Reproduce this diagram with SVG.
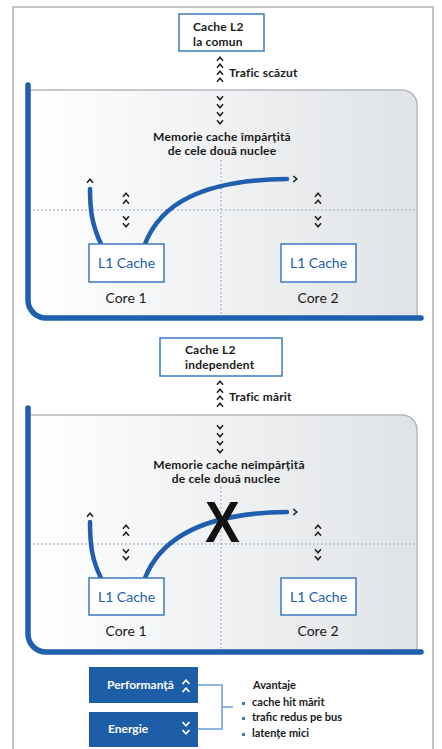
<svg xmlns="http://www.w3.org/2000/svg" width="442" height="749" viewBox="0 0 442 749">
  <style>
    .t { font-family: Lato, "Open Sans", "Liberation Sans", sans-serif; fill: #1a1a1a; }
    .lbl { font-size: 12px; font-weight: 700; letter-spacing: 0.18px; }
    .core { font-size: 14px; }
    .l1 { font-size: 14px; fill: #1d5ca8; }
    .box { fill: #ffffff; stroke: #3d79bf; stroke-width: 1.5; }
    .wire { fill: none; stroke: #1f5fae; stroke-width: 4.5; stroke-linecap: round; }
    .frame { fill: none; stroke: #1f5fae; stroke-width: 5.5; stroke-linecap: round; }
    .edge { fill: none; stroke: #b4b8bd; stroke-width: 1.5; }
    .dot { fill: none; stroke: #9fb0cc; stroke-width: 1.3; stroke-dasharray: 1.5 2.5; }
    .chev { fill: none; stroke: #222; stroke-width: 1.6; }
    .wchev { fill: none; stroke: #ffffff; stroke-width: 1.7; }
    .leg { fill: #1e5ea9; }
    .brk { fill: none; stroke: #6a9fd6; stroke-width: 1.5; }
    .wt { font-family: Lato, "Open Sans", "Liberation Sans", sans-serif; fill: #ffffff; font-size: 12px; font-weight: 700; }
    .lt { font-size: 11px; font-weight: 700; }
  </style>
  <defs>
    <linearGradient id="panelFill" x1="0" y1="0" x2="1" y2="0">
      <stop offset="0" stop-color="#ffffff"/>
      <stop offset="1" stop-color="#e0e3e6"/>
    </linearGradient>
    <path id="up" class="chev" d="M-3,1.8 L0,-1.7 L3,1.8"/>
    <path id="dn" class="chev" d="M-3,-1.8 L0,1.7 L3,-1.8"/>
    <path id="rt" class="chev" d="M-1.7,-3 L1.8,0 L-1.7,3"/>
    <path id="wup" class="wchev" d="M-3.5,2 L0,-1.8 L3.5,2"/>
    <path id="wdn" class="wchev" d="M-3.5,-2 L0,1.8 L3.5,-2"/>
  </defs>

  <!-- outer frame -->
  <path d="M13,749 V7 H433 V749" fill="none" stroke="#c4c4c4" stroke-width="2"/>

  <!-- ===== shared L2 ===== -->
  <g id="panel-shared">
    <path d="M28,90 H402 A15,15 0 0 1 417,105 V318 H28 Z" fill="url(#panelFill)"/>
    <path class="edge" d="M28,90 H402 A15,15 0 0 1 417,105 V318"/>
    <line class="dot" x1="221" y1="160" x2="221" y2="316"/>
    <line class="dot" x1="33" y1="210" x2="416" y2="210"/>
    <path class="frame" d="M28,85 V300 A18,18 0 0 0 46,318 H421"/>
  </g>

  <g id="l2-shared">
    <rect class="box" x="179" y="14" width="85" height="37"/>
    <text class="t lbl" x="193" y="31">Cache L2</text>
    <text class="t lbl" x="193" y="45.5">la comun</text>
  </g>

  <g id="traffic-low">
    <use href="#up" x="220" y="59"/>
    <use href="#up" x="220" y="66"/>
    <use href="#up" x="220" y="73"/>
    <use href="#up" x="220" y="80"/>
    <text class="t lbl" x="229" y="77">Trafic scăzut</text>
    <use href="#dn" x="220" y="98"/>
    <use href="#dn" x="220" y="106"/>
    <use href="#dn" x="220" y="114"/>
    <use href="#dn" x="220" y="122"/>
  </g>

  <g id="label-shared">
    <text class="t lbl" x="222" y="140.5" text-anchor="middle">Memorie cache împărțită</text>
    <text class="t lbl" x="222" y="155" text-anchor="middle">de cele două nuclee</text>
  </g>

  <g id="links-shared">
    <path class="wire" d="M101,244 C92,225 90,210 90,189"/>
    <use href="#up" x="90" y="181"/>
    <path class="wire" d="M145,244 C160,205 200,180 287,179"/>
    <use href="#rt" x="295" y="179"/>
    <use href="#up" x="126" y="195"/>
    <use href="#up" x="126" y="202"/>
    <use href="#dn" x="126" y="218"/>
    <use href="#dn" x="126" y="225"/>
    <use href="#up" x="318" y="195"/>
    <use href="#up" x="318" y="202"/>
    <use href="#dn" x="318" y="218"/>
    <use href="#dn" x="318" y="225"/>
  </g>

  <g id="core1-shared">
    <rect class="box" x="89" y="244" width="75" height="38"/>
    <text class="t l1" x="126.5" y="268" text-anchor="middle">L1 Cache</text>
    <text class="t core" x="126" y="303" text-anchor="middle">Core 1</text>
  </g>
  <g id="core2-shared">
    <rect class="box" x="281" y="244" width="75" height="38"/>
    <text class="t l1" x="318.5" y="268" text-anchor="middle">L1 Cache</text>
    <text class="t core" x="318" y="303" text-anchor="middle">Core 2</text>
  </g>

  <!-- ===== independent L2 ===== -->
  <g id="panel-split">
    <path d="M28,415 H402 A15,15 0 0 1 417,430 V652 H28 Z" fill="url(#panelFill)"/>
    <path class="edge" d="M28,415 H402 A15,15 0 0 1 417,430 V652"/>
    <line class="dot" x1="221" y1="487" x2="221" y2="650"/>
    <line class="dot" x1="33" y1="544" x2="416" y2="544"/>
    <path class="frame" d="M28,408 V634 A18,18 0 0 0 46,652 H421"/>
  </g>

  <g id="l2-split">
    <rect class="box" x="160" y="338" width="122" height="38"/>
    <text class="t lbl" x="185" y="354">Cache L2</text>
    <text class="t lbl" x="185" y="368.5">independent</text>
  </g>

  <g id="traffic-high">
    <use href="#up" x="220" y="383"/>
    <use href="#up" x="220" y="391"/>
    <use href="#up" x="220" y="398"/>
    <use href="#up" x="220" y="405"/>
    <text class="t lbl" x="229" y="401">Trafic mărit</text>
    <use href="#dn" x="220" y="427"/>
    <use href="#dn" x="220" y="435"/>
    <use href="#dn" x="220" y="443"/>
    <use href="#dn" x="220" y="451"/>
  </g>

  <g id="label-split">
    <text class="t lbl" x="229" y="468.5" text-anchor="middle">Memorie cache neîmpărțită</text>
    <text class="t lbl" x="226" y="483" text-anchor="middle">de cele două nuclee</text>
  </g>

  <g id="links-split">
    <path class="wire" d="M101,578 C92,560 90,545 90,522"/>
    <use href="#up" x="90" y="515"/>
    <path class="wire" d="M145,578 C160,540 200,513 287,512"/>
    <use href="#rt" x="295" y="512"/>
    <use href="#up" x="126" y="527"/>
    <use href="#up" x="126" y="534"/>
    <use href="#dn" x="126" y="551"/>
    <use href="#dn" x="126" y="558"/>
    <use href="#up" x="318" y="527"/>
    <use href="#up" x="318" y="534"/>
    <use href="#dn" x="318" y="551"/>
    <use href="#dn" x="318" y="558"/>
    <text x="0" y="0" transform="translate(222.5,542) scale(0.9,1)" text-anchor="middle" font-family="Liberation Sans, Arial, sans-serif" font-weight="700" font-size="58" fill="#111">X</text>
  </g>

  <g id="core1-split">
    <rect class="box" x="89" y="578" width="75" height="37"/>
    <text class="t l1" x="126.5" y="602" text-anchor="middle">L1 Cache</text>
    <text class="t core" x="126" y="636" text-anchor="middle">Core 1</text>
  </g>
  <g id="core2-split">
    <rect class="box" x="281" y="578" width="75" height="37"/>
    <text class="t l1" x="318.5" y="602" text-anchor="middle">L1 Cache</text>
    <text class="t core" x="318" y="636" text-anchor="middle">Core 2</text>
  </g>

  <!-- ===== legend ===== -->
  <g id="legend-connectors">
    <path class="brk" d="M198,685 H222 V729 H198"/>
    <path class="brk" d="M222,707 H233"/>
  </g>
  <g id="legend-perf">
    <rect class="leg" x="89" y="667" width="109" height="36"/>
    <text class="wt" x="107" y="689">Performanță</text>
    <use href="#wup" x="186" y="682"/>
    <use href="#wup" x="186" y="690"/>
  </g>
  <g id="legend-energy">
    <rect class="leg" x="89" y="712" width="109" height="35"/>
    <text class="wt" x="108" y="733">Energie</text>
    <use href="#wdn" x="186" y="724"/>
    <use href="#wdn" x="186" y="732"/>
  </g>
  <g id="legend-benefits">
    <text class="t lt" x="253" y="689" font-size="11.5">Avantaje</text>
    <rect x="242" y="702" width="3" height="3" fill="#3d79bf"/>
    <rect x="242" y="717" width="3" height="3" fill="#3d79bf"/>
    <rect x="242" y="733" width="3" height="3" fill="#3d79bf"/>
    <text class="t lt" x="252" y="706">cache hit mărit</text>
    <text class="t lt" x="252" y="721">trafic redus pe bus</text>
    <text class="t lt" x="252" y="737">latențe mici</text>
  </g>
</svg>
